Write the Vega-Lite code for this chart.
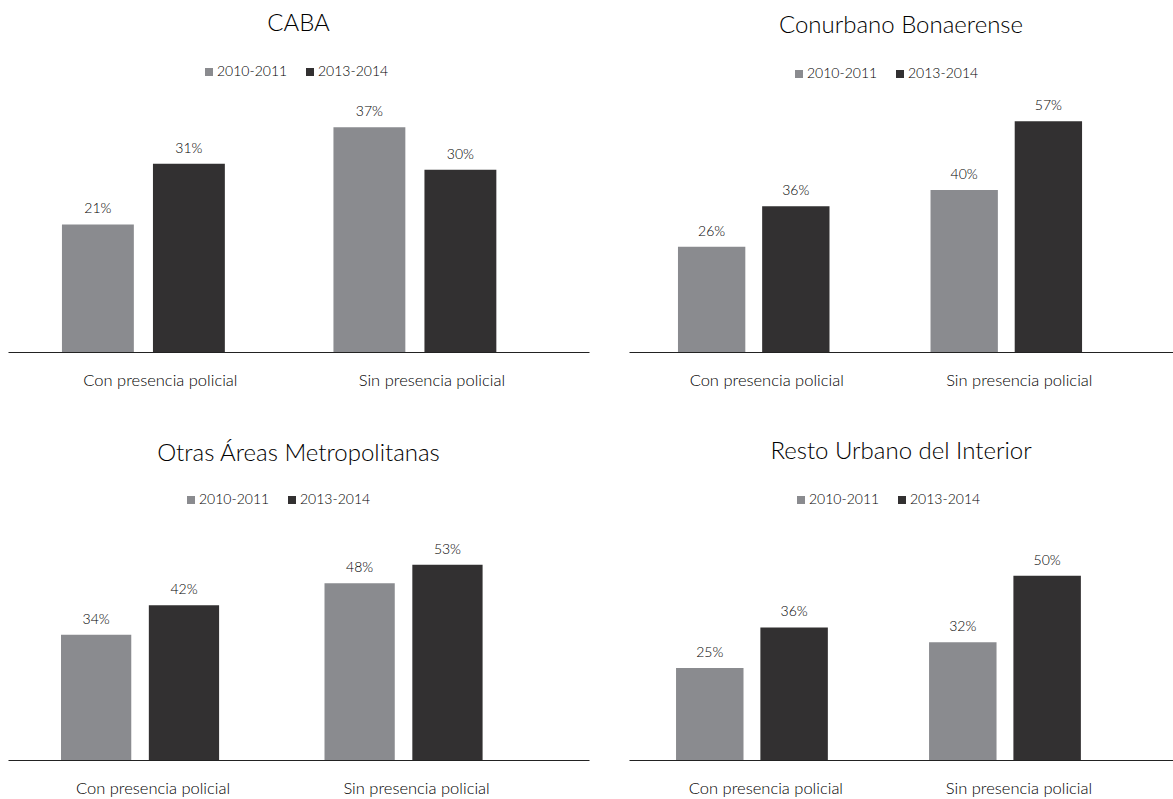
{
  "$schema": "https://vega.github.io/schema/vega-lite/v6.json",
  "background": "white",
  "padding": {"left": 8, "top": 12, "right": 0, "bottom": 0},
  "datasets": {
    "encuesta": [
      {"region": "CABA", "condicion": "Con presencia policial", "periodo": "2010-2011", "valor": 0.21},
      {"region": "CABA", "condicion": "Con presencia policial", "periodo": "2013-2014", "valor": 0.31},
      {"region": "CABA", "condicion": "Sin presencia policial", "periodo": "2010-2011", "valor": 0.37},
      {"region": "CABA", "condicion": "Sin presencia policial", "periodo": "2013-2014", "valor": 0.30},
      {"region": "Conurbano Bonaerense", "condicion": "Con presencia policial", "periodo": "2010-2011", "valor": 0.26},
      {"region": "Conurbano Bonaerense", "condicion": "Con presencia policial", "periodo": "2013-2014", "valor": 0.36},
      {"region": "Conurbano Bonaerense", "condicion": "Sin presencia policial", "periodo": "2010-2011", "valor": 0.40},
      {"region": "Conurbano Bonaerense", "condicion": "Sin presencia policial", "periodo": "2013-2014", "valor": 0.57},
      {"region": "Otras Áreas Metropolitanas", "condicion": "Con presencia policial", "periodo": "2010-2011", "valor": 0.34},
      {"region": "Otras Áreas Metropolitanas", "condicion": "Con presencia policial", "periodo": "2013-2014", "valor": 0.42},
      {"region": "Otras Áreas Metropolitanas", "condicion": "Sin presencia policial", "periodo": "2010-2011", "valor": 0.48},
      {"region": "Otras Áreas Metropolitanas", "condicion": "Sin presencia policial", "periodo": "2013-2014", "valor": 0.53},
      {"region": "Resto Urbano del Interior", "condicion": "Con presencia policial", "periodo": "2010-2011", "valor": 0.25},
      {"region": "Resto Urbano del Interior", "condicion": "Con presencia policial", "periodo": "2013-2014", "valor": 0.36},
      {"region": "Resto Urbano del Interior", "condicion": "Sin presencia policial", "periodo": "2010-2011", "valor": 0.32},
      {"region": "Resto Urbano del Interior", "condicion": "Sin presencia policial", "periodo": "2013-2014", "valor": 0.50}
    ]
  },
  "config": {
    "view": {"stroke": null},
    "font": "Lato",
    "title": {"fontSize": 24, "fontWeight": 300, "color": "#000000", "anchor": "middle", "offset": 29},
    "axisX": {
      "title": null,
      "ticks": false,
      "tickSize": 0,
      "grid": false,
      "domainColor": "#222222",
      "domainWidth": 1.2,
      "labelAngle": 0,
      "labelFont": "Lato",
      "labelFontSize": 16.5,
      "labelFontWeight": 300,
      "labelColor": "#000000",
      "labelPadding": 20
    },
    "legend": {
      "title": null,
      "orient": "none",
      "direction": "horizontal",
      "symbolType": "square",
      "symbolSize": 64,
      "symbolStrokeWidth": 0,
      "labelFont": "Lato",
      "labelFontSize": 14,
      "labelFontWeight": 300,
      "labelColor": "#000000",
      "labelOffset": 1,
      "columnPadding": 15
    },
    "text": {"font": "Lato", "fontSize": 14, "fontWeight": 300, "color": "#000000"}
  },
  "resolve": {
    "scale": {"color": "independent", "x": "independent", "y": "independent", "xOffset": "independent"},
    "legend": {"color": "independent"}
  },
  "spacing": 430,
  "bounds": "flush",
  "vconcat": [
    {
      "hconcat": [
        {
          "width": 581,
          "height": 243,
          "title": {"text": "CABA", "offset": 29},
          "data": {"name": "encuesta"},
          "transform": [{"filter": "datum.region === 'CABA'"}],
          "encoding": {
            "x": {"field": "condicion", "type": "nominal", "scale": {"paddingInner": 0.4, "paddingOuter": 0.27, "align": 0.368}, "axis": {"labelOffset": 17}},
            "xOffset": {"field": "periodo", "type": "nominal", "scale": {"paddingInner": 0.21}},
            "y": {"field": "valor", "type": "quantitative", "scale": {"domain": [0, 0.4], "nice": false}, "axis": null}
          },
          "layer": [
            {
              "mark": "bar",
              "encoding": {
                "color": {"field": "periodo", "type": "nominal", "scale": {"domain": ["2010-2011", "2013-2014"], "range": ["#8a8b8f", "#323031"]}, "legend": {"legendX": 194, "legendY": -44}}
              }
            },
            {
              "mark": {"type": "text", "baseline": "alphabetic", "dy": -11},
              "encoding": {"text": {"field": "valor", "type": "quantitative", "format": ".0%"}}
            }
          ]
        },
        {
          "width": 544,
          "height": 243,
          "title": {"text": "Conurbano Bonaerense", "offset": 29},
          "data": {"name": "encuesta"},
          "transform": [{"filter": "datum.region === 'Conurbano Bonaerense'"}],
          "encoding": {
            "x": {"field": "condicion", "type": "nominal", "scale": {"paddingInner": 0.4, "paddingOuter": 0.277, "align": 0.35}, "axis": {"labelOffset": 13}},
            "xOffset": {"field": "periodo", "type": "nominal", "scale": {"paddingInner": 0.2}},
            "y": {"field": "valor", "type": "quantitative", "scale": {"domain": [0, 0.6], "nice": false}, "axis": null}
          },
          "layer": [
            {
              "mark": "bar",
              "encoding": {
                "color": {"field": "periodo", "type": "nominal", "scale": {"domain": ["2010-2011", "2013-2014"], "range": ["#8a8b8f", "#323031"]}, "legend": {"legendX": 163, "legendY": -42}}
              }
            },
            {
              "mark": {"type": "text", "baseline": "alphabetic", "dy": -11},
              "encoding": {"text": {"field": "valor", "type": "quantitative", "format": ".0%"}}
            }
          ]
        }
      ],
      "spacing": 40,
      "bounds": "flush",
      "resolve": {
        "scale": {"color": "independent", "x": "independent", "y": "independent", "xOffset": "independent"},
        "legend": {"color": "independent"}
      }
    },
    {
      "hconcat": [
        {
          "width": 581,
          "height": 221,
          "title": {"text": "Otras Áreas Metropolitanas", "offset": 27},
          "data": {"name": "encuesta"},
          "transform": [{"filter": "datum.region === 'Otras Áreas Metropolitanas'"}],
          "encoding": {
            "x": {"field": "condicion", "type": "nominal", "scale": {"paddingInner": 0.4, "paddingOuter": 0.3025, "align": 0.3325}, "axis": {"labelOffset": 13}},
            "xOffset": {"field": "periodo", "type": "nominal", "scale": {"paddingInner": 0.2}},
            "y": {"field": "valor", "type": "quantitative", "scale": {"domain": [0, 0.6], "nice": false}, "axis": null}
          },
          "layer": [
            {
              "mark": "bar",
              "encoding": {
                "color": {"field": "periodo", "type": "nominal", "scale": {"domain": ["2010-2011", "2013-2014"], "range": ["#8a8b8f", "#323031"]}, "legend": {"legendX": 176, "legendY": -46}}
              }
            },
            {
              "mark": {"type": "text", "baseline": "alphabetic", "dy": -11},
              "encoding": {"text": {"field": "valor", "type": "quantitative", "format": ".0%"}}
            }
          ]
        },
        {
          "width": 544,
          "height": 221,
          "title": {"text": "Resto Urbano del Interior", "offset": 29},
          "data": {"name": "encuesta"},
          "transform": [{"filter": "datum.region === 'Resto Urbano del Interior'"}],
          "encoding": {
            "x": {"field": "condicion", "type": "nominal", "scale": {"paddingInner": 0.4, "paddingOuter": 0.275, "align": 0.338}, "axis": {"labelOffset": 14}},
            "xOffset": {"field": "periodo", "type": "nominal", "scale": {"paddingInner": 0.2}},
            "y": {"field": "valor", "type": "quantitative", "scale": {"domain": [0, 0.6], "nice": false}, "axis": null}
          },
          "layer": [
            {
              "mark": "bar",
              "encoding": {
                "color": {"field": "periodo", "type": "nominal", "scale": {"domain": ["2010-2011", "2013-2014"], "range": ["#8a8b8f", "#323031"]}, "legend": {"legendX": 165, "legendY": -46}}
              }
            },
            {
              "mark": {"type": "text", "baseline": "alphabetic", "dy": -11},
              "encoding": {"text": {"field": "valor", "type": "quantitative", "format": ".0%"}}
            }
          ]
        }
      ],
      "spacing": 40,
      "bounds": "flush",
      "resolve": {
        "scale": {"color": "independent", "x": "independent", "y": "independent", "xOffset": "independent"},
        "legend": {"color": "independent"}
      }
    }
  ]
}
